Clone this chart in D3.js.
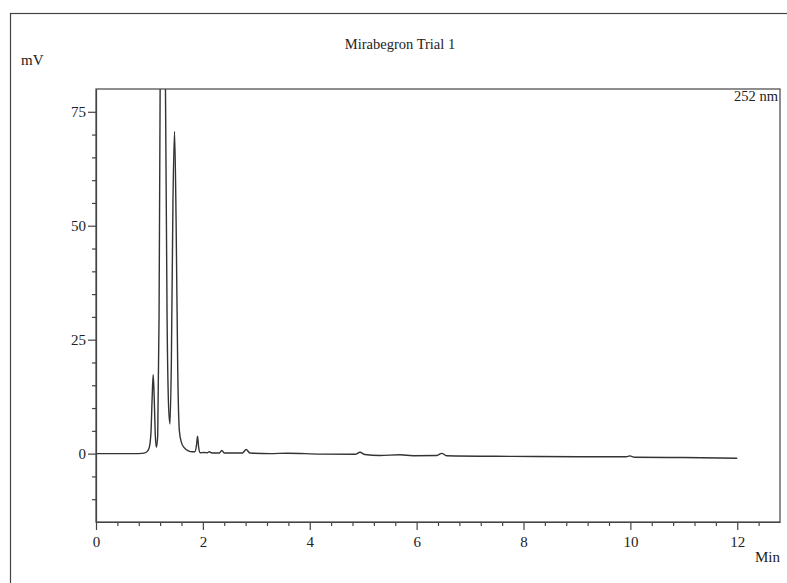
<!DOCTYPE html>
<html>
<head>
<meta charset="utf-8">
<script src="https://cdn.jsdelivr.net/npm/d3@7"></script>
<style>
  body { margin: 0; background: #fff; }
  text { font-family: "Liberation Serif", "DejaVu Serif", serif; fill: #222; }
</style>
</head>
<body>
<svg id="chart"></svg>
<script>
// chromatogram: retention time (min) and signal (mV)
var times = [0, 0.5, 0.8, 0.9, 0.96, 1.0, 1.03, 1.05, 1.07, 1.09, 1.11, 1.13, 1.155, 1.18, 1.2, 1.25,
    1.3, 1.33, 1.36, 1.385, 1.41, 1.44, 1.47, 1.5, 1.53, 1.56, 1.6, 1.65, 1.73, 1.8, 1.85, 1.88,
    1.9, 1.92, 1.95, 2.02, 2.08, 2.12, 2.16, 2.2, 2.31, 2.355, 2.4, 2.6, 2.74, 2.81, 2.88, 3.26,
    3.59, 4.19, 4.85, 4.94, 5.03, 5.31, 5.69, 5.93, 6.38, 6.47, 6.56, 7.8, 9.05, 9.92, 9.99, 10.08,
    10.92, 12.0];
var signal = [0, 0, 0, 0.1, 0.5, 1.5, 5, 12, 17.3, 12, 4, 1.4, 4, 30, 80, 250,
    80, 30, 10, 6.5, 20, 55, 70.7, 50, 18, 5, 2.4, 1.3, 0.6, 0.4, 0.4, 1.8,
    3.8, 1.5, 0.2, 0.25, 0.2, 0.4, 0.2, 0.15, 0.15, 0.7, 0.15, 0.15, 0.15, 0.9, 0.15, 0,
    0.1, -0.1, -0.15, 0.3, -0.2, -0.4, -0.25, -0.45, -0.4, 0.05, -0.45, -0.6, -0.7, -0.7, -0.5, -0.8,
    -0.85, -1.0];

var xMajor = [0, 2, 4, 6, 8, 10, 12];
var yMajor = [0, 25, 50, 75];
var title = "Mirabegron Trial 1";
var yLabel = "mV", xLabel = "Min", channel = "252 nm";

var svgWidth = 787, svgHeight = 583;
var margin = {top: 89, right: 7, bottom: 61, left: 96};
var width = svgWidth - margin.left - margin.right;
var height = svgHeight - margin.top - margin.bottom;

var svg = d3.select("#chart")
    .attr("width", svgWidth)
    .attr("height", svgHeight);

// outer frame, runs off the right and bottom edges
svg.append("rect")
    .attr("x", 10.5).attr("y", 13.5)
    .attr("width", 800).attr("height", 600)
    .attr("fill", "none")
    .attr("stroke", "#444")
    .attr("stroke-width", 1.2);

svg.append("text")
    .attr("x", 400).attr("y", 49)
    .attr("text-anchor", "middle")
    .style("font-size", "14.5px")
    .text(title);

svg.append("text")
    .attr("x", 21).attr("y", 65)
    .style("font-size", "15px")
    .text(yLabel);

svg.append("text")
    .attr("x", 780).attr("y", 562)
    .attr("text-anchor", "end")
    .style("font-size", "15px")
    .text(xLabel);

var g = svg.append("g")
    .attr("transform", "translate(" + margin.left + "," + margin.top + ")");

var x = d3.scaleLinear().domain([0, 12.8]).range([0, width]);
var y = d3.scaleLinear().domain([-15, 80]).range([height, 0]);

g.append("clipPath").attr("id", "clip")
    .append("rect").attr("width", width).attr("height", height);

var pts = times.map(function(t, i) { return {t: t, v: signal[i]}; });

var line = d3.line()
    .x(function(d) { return x(d.t); })
    .y(function(d) { return y(d.v); })
    .curve(d3.curveMonotoneX);

g.append("path")
    .datum(pts)
    .attr("clip-path", "url(#clip)")
    .attr("fill", "none")
    .attr("stroke", "#333")
    .attr("stroke-width", 1.4)
    .attr("stroke-linejoin", "round")
    .attr("d", line);

// minor ticks
var xMinor = d3.range(0, 12.41, 0.4).filter(function(v) {
    return xMajor.every(function(m) { return Math.abs(m - v) > 0.01; });
});
var yMinor = d3.range(-10, 80, 5).filter(function(v) { return yMajor.indexOf(v) < 0; });

g.append("g")
    .attr("transform", "translate(0," + height + ")")
    .call(d3.axisBottom(x).tickValues(xMinor).tickSize(4).tickFormat(""))
    .select(".domain").remove();
g.append("g")
    .call(d3.axisLeft(y).tickValues(yMinor).tickSize(4).tickFormat(""))
    .select(".domain").remove();

var xAxis = g.append("g")
    .attr("transform", "translate(0," + height + ")")
    .call(d3.axisBottom(x).tickValues(xMajor).tickSize(8).tickSizeOuter(0).tickFormat(d3.format("d")));
var yAxis = g.append("g")
    .call(d3.axisLeft(y).tickValues(yMajor).tickSize(8).tickSizeOuter(0).tickFormat(d3.format("d")));

[xAxis, yAxis].forEach(function(ax) {
    ax.attr("font-size", 15).attr("font-family", "Liberation Serif, serif");
    ax.selectAll("text").attr("fill", "#222").style("font-size", "15px");
});
xAxis.selectAll("text").attr("dy", "0.9em");
yAxis.selectAll("text").attr("x", -10);
svg.selectAll(".tick line").attr("stroke", "#444").attr("stroke-width", 1.2);
svg.selectAll(".domain").attr("stroke", "#444").attr("stroke-width", 1.2);

// right and top sides of the plot box
g.append("rect")
    .attr("width", width).attr("height", height)
    .attr("fill", "none")
    .attr("stroke", "#444")
    .attr("stroke-width", 1.2);

g.append("text")
    .attr("x", width - 2).attr("y", 12)
    .attr("text-anchor", "end")
    .style("font-size", "14.5px")
    .text(channel);
</script>
</body>
</html>
